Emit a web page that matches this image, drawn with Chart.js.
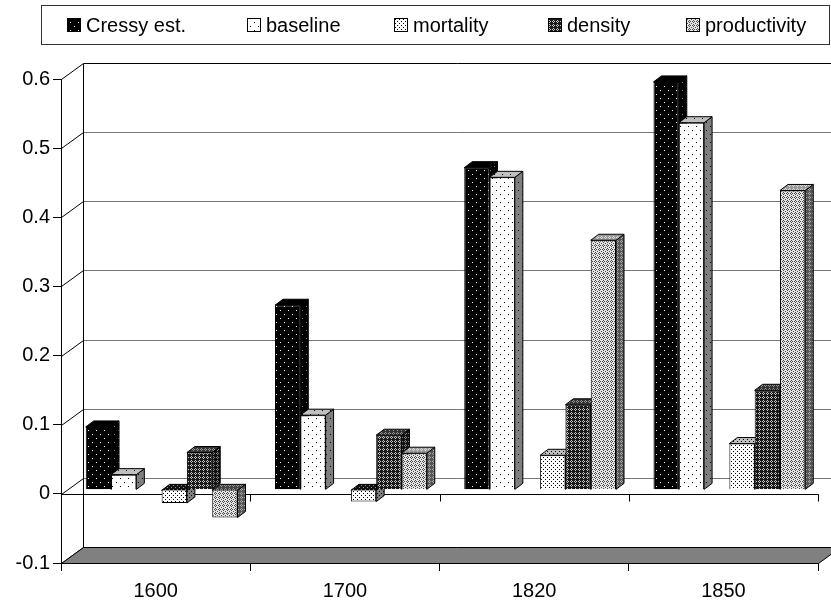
<!DOCTYPE html>
<html>
<head>
<meta charset="utf-8">
<script src="https://cdn.jsdelivr.net/npm/chart.js@4/dist/chart.umd.min.js"></script>
<style>
	html, body { margin: 0; padding: 0; background: #fff; }
	canvas { display: block; }
</style>
</head>
<body>
<canvas id="chart" width="831" height="604"></canvas>
<script>
// values
var years = ["1600", "1700", "1820", "1850"];
var seriesNames = ["Cressy est.", "baseline", "mortality", "density", "productivity"];
var cressy = [0.091, 0.267, 0.466, 0.590];
var baseline = [0.022, 0.108, 0.452, 0.531];
var mortality = [-0.019, -0.017, 0.050, 0.067];
var density = [0.054, 0.079, 0.123, 0.144];
var productivity = [-0.040, 0.053, 0.361, 0.433];
var yTicks = [-0.1, 0, 0.1, 0.2, 0.3, 0.4, 0.5, 0.6];

var FONT = '"Liberation Sans", Arial, sans-serif';
var WALL_X = 22, WALL_Y = 16;     // depth of the 3d box
var SHIFT_X = 6, SHIFT_Y = -4;    // bar fronts sit a bit behind the front plane
var DEPTH_X = 8, DEPTH_Y = 6;     // depth of one bar

function makePattern(bg, fg, dots, w, h) {
	var c = document.createElement("canvas");
	c.width = w;
	c.height = h;
	var g = c.getContext("2d");
	g.fillStyle = bg;
	g.fillRect(0, 0, w, h);
	g.fillStyle = fg;
	dots.forEach(function(d) { g.fillRect(d[0], d[1], 1, 1); });
	return g.createPattern(c, "repeat");
}

var sparse = [[2, 2], [6, 6]];
var fine = [[1, 1], [3, 3]];
var cross = [[1, 0], [0, 1], [2, 1], [1, 2]];
var cross2 = [[1, 0], [0, 1], [2, 1], [1, 2], [3, 3]];

// front, side, top, top of a negative bar
var looks = [
	[makePattern("#000", "#fff", sparse, 8, 8), makePattern("#000", "#888", sparse, 8, 8), "#000", "#000"],
	[makePattern("#fff", "#000", sparse, 8, 8), makePattern("#808080", "#000", sparse, 8, 8), makePattern("#c0c0c0", "#000", sparse, 8, 8), "#333"],
	[makePattern("#fff", "#000", fine, 4, 4), makePattern("#808080", "#000", fine, 4, 4), makePattern("#c0c0c0", "#000", fine, 4, 4), makePattern("#111", "#888", fine, 4, 4)],
	[makePattern("#1a1a1a", "#c8c8c8", cross, 4, 4), makePattern("#111", "#888", cross, 4, 4), makePattern("#333", "#999", cross, 4, 4), "#222"],
	[makePattern("#e4e4e4", "#4a4a4a", cross2, 4, 4), makePattern("#555", "#aaa", cross, 4, 4), makePattern("#999", "#ddd", cross, 4, 4), makePattern("#444", "#999", cross, 4, 4)]
];

var seriesValues = [cressy, baseline, mortality, density, productivity];
var datasets = [];
seriesValues.forEach(function(values, i) {
	datasets.push({
		label: seriesNames[i],
		data: values,
		backgroundColor: looks[i][0],
		borderColor: "#000",
		borderWidth: 1,
		clip: false
	});
	// Excel left an empty slot after the second series
	if (i == 1) {
		datasets.push({ label: "", data: years.map(function() { return null; }), clip: false });
	}
});

function poly(ctx, pts, fill) {
	ctx.beginPath();
	ctx.moveTo(pts[0][0], pts[0][1]);
	for (var i = 1; i < pts.length; i++) ctx.lineTo(pts[i][0], pts[i][1]);
	ctx.closePath();
	ctx.fillStyle = fill;
	ctx.fill();
	ctx.stroke();
}

var box3d = {
	id: "box3d",
	beforeDatasetsDraw: function(chart) {
		var ctx = chart.ctx;
		var area = chart.chartArea;
		var y = chart.scales.y;
		var L = area.left + 0.5, R = area.right + 0.5;
		ctx.save();
		ctx.lineWidth = 1;

		// back wall grid
		yTicks.forEach(function(v) {
			var py = Math.round(y.getPixelForValue(v)) + 0.5;
			if (v > yTicks[0]) {
				ctx.strokeStyle = v == yTicks[yTicks.length - 1] ? "#000" : "#777";
				ctx.beginPath();
				ctx.moveTo(L + WALL_X, py - WALL_Y);
				ctx.lineTo(R + WALL_X, py - WALL_Y);
				ctx.stroke();
			}
			ctx.strokeStyle = "#000";
			ctx.beginPath();
			ctx.moveTo(L, py);
			ctx.lineTo(L + WALL_X, py - WALL_Y);
			ctx.stroke();
		});
		var topY = Math.round(y.getPixelForValue(yTicks[yTicks.length - 1])) + 0.5;
		var botY = Math.round(y.getPixelForValue(yTicks[0])) + 0.5;
		ctx.strokeStyle = "#000";
		ctx.beginPath();
		ctx.moveTo(L + WALL_X, topY - WALL_Y);
		ctx.lineTo(L + WALL_X, botY - WALL_Y);
		ctx.stroke();

		// floor
		poly(ctx, [[L, botY], [R, botY], [R + WALL_X, botY - WALL_Y], [L + WALL_X, botY - WALL_Y]], "#808080");

		// line at zero with its ticks
		var zeroY = Math.round(y.getPixelForValue(0)) + 0.5;
		ctx.beginPath();
		ctx.moveTo(L, zeroY);
		ctx.lineTo(R, zeroY);
		var step = (area.right - area.left) / years.length;
		for (var k = 1; k <= years.length; k++) {
			var tx = Math.round(area.left + k * step) + 0.5;
			ctx.moveTo(tx, zeroY);
			ctx.lineTo(tx, zeroY + 7);
		}
		ctx.stroke();

		// sides and tops of the bars, left to right
		chart.data.datasets.forEach(function(ds, di) {
			if (!ds.label) return;
			var look = looks[seriesNames.indexOf(ds.label)];
			var meta = chart.getDatasetMeta(di);
			meta.data.forEach(function(bar, j) {
				if (ds.data[j] == null) return;
				var p = bar.getProps(["x", "y", "base", "width"], true);
				var l = p.x - p.width / 2 + SHIFT_X, r = p.x + p.width / 2 + SHIFT_X;
				var t = Math.min(p.y, p.base) + SHIFT_Y, b = Math.max(p.y, p.base) + SHIFT_Y;
				poly(ctx, [[r, t], [r + DEPTH_X, t - DEPTH_Y], [r + DEPTH_X, b - DEPTH_Y], [r, b]], look[1]);
				poly(ctx, [[l, t], [r, t], [r + DEPTH_X, t - DEPTH_Y], [l + DEPTH_X, t - DEPTH_Y]], ds.data[j] < 0 ? look[3] : look[2]);
			});
		});
		ctx.restore();

		// fronts are drawn by Chart.js, moved back into the box
		ctx.save();
		ctx.translate(SHIFT_X, SHIFT_Y);
	},
	afterDatasetsDraw: function(chart) {
		chart.ctx.restore();
	},
	afterDraw: function(chart) {
		var ctx = chart.ctx;
		var keys = [67, 247, 394, 548, 686];
		ctx.save();
		ctx.strokeStyle = "#333";
		ctx.lineWidth = 1;
		ctx.strokeRect(41.5, 5.5, 788, 39);
		ctx.font = "20px " + FONT;
		ctx.textBaseline = "middle";
		ctx.fillStyle = "#000";
		seriesNames.forEach(function(name, i) {
			ctx.fillStyle = looks[i][0];
			ctx.fillRect(keys[i] + 0.5, 18.5, 13, 13);
			ctx.strokeStyle = "#000";
			ctx.strokeRect(keys[i] + 0.5, 18.5, 13, 13);
			ctx.fillStyle = "#000";
			ctx.fillText(name, keys[i] + 19, 26);
		});
		ctx.restore();
	}
};

new Chart(document.getElementById("chart"), {
	type: "bar",
	data: {
		labels: years,
		datasets: datasets
	},
	options: {
		responsive: false,
		devicePixelRatio: 1,
		animation: false,
		categoryPercentage: 0.802,
		barPercentage: 1,
		layout: { padding: { top: 79, right: 13, left: 0, bottom: 0 } },
		plugins: {
			legend: { display: false },
			tooltip: { enabled: false }
		},
		scales: {
			x: {
				afterFit: function(scale) { scale.height = 41; },
				grid: { drawOnChartArea: false, color: "#000", tickLength: 8, offset: true },
				border: { color: "#000" },
				ticks: { color: "#000", font: { size: 20, family: FONT }, padding: 8, maxRotation: 0 }
			},
			y: {
				min: -0.1,
				max: 0.6,
				afterFit: function(scale) { scale.width = 61; },
				afterBuildTicks: function(scale) {
					scale.ticks = yTicks.map(function(v) { return { value: v }; });
				},
				grid: { drawOnChartArea: false, color: "#000", tickLength: 8 },
				border: { color: "#000" },
				ticks: {
					color: "#000",
					font: { size: 20, family: FONT },
					padding: 3,
					callback: function(v) { return String(v); }
				}
			}
		}
	},
	plugins: [box3d]
});
</script>
</body>
</html>
